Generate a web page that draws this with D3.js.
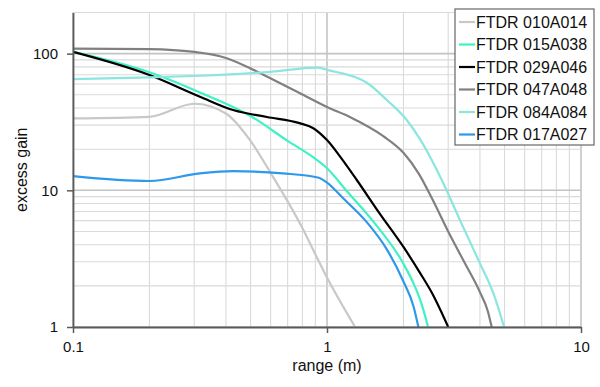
<!DOCTYPE html>
<html>
<head>
<meta charset="utf-8">
<script src="https://cdn.jsdelivr.net/npm/d3@7"></script>
<style>
    body { margin: 0; background: #fff; }
    svg { display: block; font-family: "Liberation Sans", Arial, sans-serif; }
</style>
</head>
<body>
<svg id="chart"></svg>
<script>
// series names (legend order) and colours
const seriesNames = ["FTDR 010A014", "FTDR 015A038", "FTDR 029A046", "FTDR 047A048", "FTDR 084A084", "FTDR 017A027"];
const seriesColors = ["#c8c8c8", "#3ef2c6", "#000000", "#808080", "#8ae6de", "#2e98ea"];

// range (m) and excess gain, one pair of arrays per unit
const range010 = [0.1, 0.2, 0.3, 0.4, 0.5, 0.6, 0.8, 0.9, 1.0, 1.29];
const gain010  = [33.6, 34.5, 43, 36.5, 23, 13.4, 5.3, 3.4, 2.3, 1.0];

const range015 = [0.1, 0.2, 0.316, 0.5, 0.7, 0.9, 1.0, 1.2, 1.5, 2.0, 2.2, 2.35, 2.5];
const gain015  = [103, 73, 52, 35, 23, 17, 14.5, 9.8, 6.1, 2.9, 2.05, 1.5, 1.0];

const range029 = [0.1, 0.2, 0.316, 0.43, 0.58, 0.78, 0.88, 1.0, 1.13, 1.31, 1.6, 2.0, 2.32, 2.6, 3.0];
const gain029  = [103, 69.7, 48.4, 38.5, 34.4, 31, 28.6, 23.3, 17.5, 11.9, 6.9, 3.85, 2.5, 1.75, 1.0];

const range047 = [0.1, 0.2, 0.3, 0.4, 0.5, 0.58, 0.78, 1.0, 1.23, 1.66, 2.0, 2.3, 2.6, 3.0, 3.5, 4.0, 4.3, 4.45];
const gain047  = [109, 108, 103, 93, 78, 68, 51.5, 40.7, 34.4, 25, 18.8, 13.2, 8.6, 5.0, 2.9, 1.8, 1.3, 1.0];

const range084 = [0.1, 0.2, 0.316, 0.58, 0.92, 1.0, 1.44, 1.72, 2.06, 2.32, 2.83, 3.36, 4.0, 4.52, 4.98];
const gain084  = [65.2, 67, 68.9, 73.3, 79, 76, 61, 45.8, 32.7, 23.8, 11.9, 5.89, 2.92, 1.76, 1.0];

const range017 = [0.1, 0.2, 0.316, 0.427, 0.67, 0.92, 1.0, 1.15, 1.44, 1.72, 2.0, 2.19, 2.29];
const gain017  = [12.7, 11.7, 13.3, 13.8, 13.3, 12.4, 11.4, 8.86, 5.8, 3.7, 2.15, 1.42, 1.0];

const xTicks = [0.1, 1, 10];
const yTicks = [1, 10, 100];

const allRanges = [range010, range015, range029, range047, range084, range017];
const allGains = [gain010, gain015, gain029, gain047, gain084, gain017];

drawChart();

function drawChart(){
    const svgWidth = 600;
    const svgHeight = 387;
    const margin = {left: 73, right: 19, top: 12.5, bottom: 60};

    const svg = d3.select("#chart")
                    .attr("width", svgWidth)
                    .attr("height", svgHeight);

    const x = d3.scaleLog()
                .domain([0.1, 10])
                .range([margin.left, svgWidth - margin.right]);

    const y = d3.scaleLog()
                .domain([1, 200])
                .range([svgHeight - margin.bottom, margin.top]);

    // minor + major gridlines, decade by decade
    const xGrid = [];
    [0.1, 1].forEach(d => { for (let k = 1; k <= 9; k++) xGrid.push(+(d * k).toFixed(2)); });
    xGrid.push(10);
    const yGrid = [];
    [1, 10].forEach(d => { for (let k = 1; k <= 9; k++) yGrid.push(d * k); });
    yGrid.push(100, 200);

    const grid = svg.append("g");

    grid.selectAll(".vgrid")
        .data(xGrid)
        .enter()
        .append("line")
        .attr("x1", d => x(d)).attr("x2", d => x(d))
        .attr("y1", y(1)).attr("y2", y(200))
        .attr("stroke", d => xTicks.includes(d) ? "#c4c4c4" : "#dadada")
        .attr("stroke-width", d => xTicks.includes(d) ? 1.6 : 1.1);

    grid.selectAll(".hgrid")
        .data(yGrid)
        .enter()
        .append("line")
        .attr("x1", x(0.1)).attr("x2", x(10))
        .attr("y1", d => y(d)).attr("y2", d => y(d))
        .attr("stroke", d => yTicks.includes(d) ? "#c4c4c4" : "#dadada")
        .attr("stroke-width", d => yTicks.includes(d) ? 1.6 : 1.1);

    // clip curves to the plot
    svg.append("clipPath")
        .attr("id", "plot-clip")
        .append("rect")
        .attr("x", x(0.1))
        .attr("y", y(200))
        .attr("width", x(10) - x(0.1))
        .attr("height", y(1) - y(200));

    const line = d3.line()
                    .x(d => x(d[0]))
                    .y(d => y(d[1]))
                    .curve(d3.curveMonotoneX);

    const series = seriesNames.map((name, i) => ({
        name: name,
        color: seriesColors[i],
        points: allRanges[i].map((r, j) => [r, allGains[i][j]])
    }));

    svg.append("g")
        .attr("clip-path", "url(#plot-clip)")
        .selectAll("path")
        .data(series)
        .enter()
        .append("path")
        .attr("d", s => line(s.points))
        .attr("fill", "none")
        .attr("stroke", s => s.color)
        .attr("stroke-width", 2.2)
        .attr("stroke-linejoin", "round");

    // axes
    const xAxis = svg.append("g")
                    .attr("transform", `translate(0, ${y(1)})`)
                    .call(d3.axisBottom(x)
                        .tickValues(xTicks)
                        .tickFormat(d => d)
                        .tickSize(6)
                        .tickSizeOuter(0)
                        .tickPadding(8));

    const yAxis = svg.append("g")
                    .attr("transform", `translate(${x(0.1)}, 0)`)
                    .call(d3.axisLeft(y)
                        .tickValues(yTicks)
                        .tickFormat(d => d)
                        .tickSize(6)
                        .tickSizeOuter(0)
                        .tickPadding(9));

    [xAxis, yAxis].forEach(a => {
        a.select(".domain").attr("stroke", "#5a5a5a").attr("stroke-width", 1.8);
        a.selectAll(".tick line").attr("stroke", "#5a5a5a").attr("stroke-width", 1.5);
        a.selectAll(".tick text")
            .attr("fill", "#111")
            .style("font-size", "15px")
            .style("font-family", "'Liberation Sans', Arial, sans-serif");
    });

    svg.append("text")
        .text("range (m)")
        .attr("x", x(1))
        .attr("y", 371)
        .attr("text-anchor", "middle")
        .attr("fill", "#111")
        .style("font-size", "16px");

    svg.append("text")
        .text("excess gain")
        .attr("transform", `translate(27, ${(y(1) + y(200)) / 2}) rotate(-90)`)
        .attr("text-anchor", "middle")
        .attr("fill", "#111")
        .style("font-size", "16px");

    createLegend(svg);
}

function createLegend(svg){
    const legendX = 455;
    const legendY = 9;
    const legendWidth = 139;
    const rowHeight = 22.5;

    const legend = svg.append("g")
                    .attr("transform", `translate(${legendX}, ${legendY})`);

    legend.append("rect")
        .attr("width", legendWidth)
        .attr("height", rowHeight * seriesNames.length + 1)
        .attr("fill", "#fff")
        .attr("stroke", "#666")
        .attr("stroke-width", 1.2);

    const item = legend.selectAll(".legend-item")
                    .data(seriesNames)
                    .enter()
                    .append("g")
                    .attr("class", "legend-item")
                    .attr("transform", (d, i) => `translate(0, ${13 + i * rowHeight})`);

    item.append("line")
        .attr("x1", 4).attr("x2", 20)
        .attr("y1", 0).attr("y2", 0)
        .attr("stroke", (d, i) => seriesColors[i])
        .attr("stroke-width", 2.2);

    item.append("text")
        .text(d => d)
        .attr("x", 21)
        .attr("y", 0)
        .attr("dy", "0.35em")
        .attr("fill", "#111")
        .style("font-size", "16px");
}
</script>
</body>
</html>
